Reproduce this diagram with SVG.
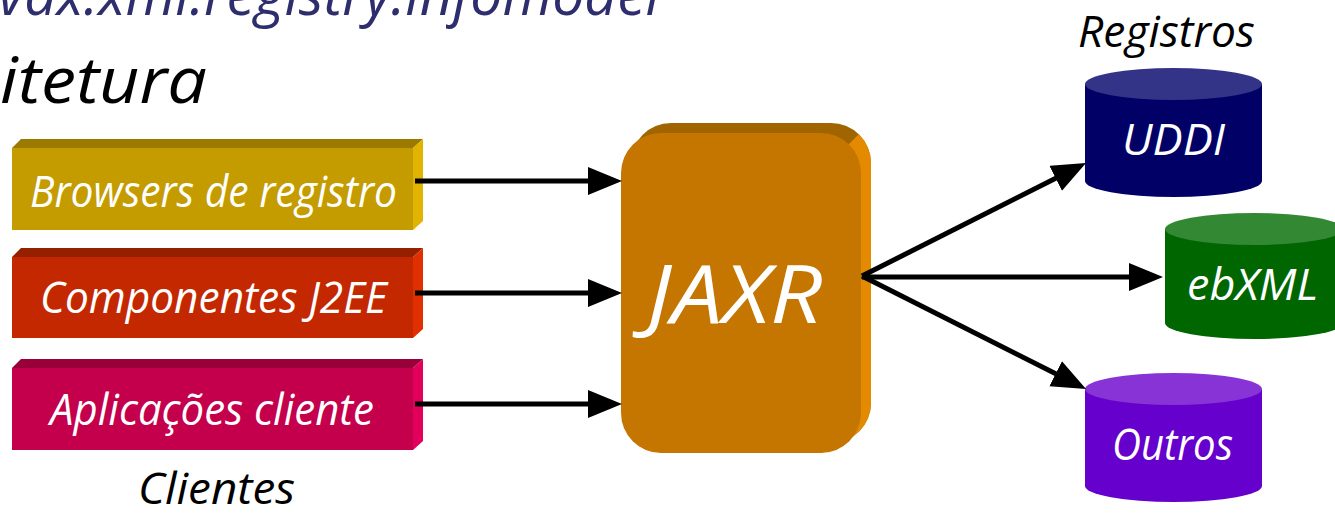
<svg xmlns="http://www.w3.org/2000/svg" width="1335" height="515" viewBox="0 0 1335 515">
<style>
text{font-family:"Open Sans","Liberation Sans",sans-serif;font-style:italic}
.w{fill:#ffffff}
.k{fill:#000000}
.lbl{font-size:44px}
.conn line{stroke:#000;stroke-width:5}
</style>
<defs>
<marker id="ah" markerUnits="userSpaceOnUse" markerWidth="36" markerHeight="30" refX="24" refY="14" orient="auto">
<path d="M0,0 L34,14 L0,28 Z" fill="#000"/>
</marker>
<clipPath id="rs"><polygon points="900,93 900,500 493,500"/></clipPath>
</defs>
<rect width="1335" height="515" fill="#ffffff"/>

<g id="title">
<text x="660" y="15" text-anchor="end" font-size="58" fill="#2E2E6E" textLength="662" lengthAdjust="spacingAndGlyphs">vax.xml.registry.infomodel</text>
<text x="207" y="103" text-anchor="end" font-size="64" class="k" textLength="207" lengthAdjust="spacingAndGlyphs">itetura</text>
</g>

<g id="browsers">
<polygon points="12,148 21,139 423,139 413,148" fill="#9A7A00"/>
<polygon points="413,148 423,139 423,221 413,230" fill="#E0B400"/>
<rect x="12" y="148" width="401" height="82" fill="#C49C00"/>
<text x="30" y="207" class="w lbl" textLength="367" lengthAdjust="spacingAndGlyphs">Browsers de registro</text>
</g>

<g id="componentes">
<polygon points="12,257 21,248 423,248 413,257" fill="#952000"/>
<polygon points="413,257 423,248 423,329 413,338" fill="#E03000"/>
<rect x="12" y="257" width="401" height="81" fill="#C42800"/>
<text x="40" y="313" class="w lbl" textLength="347" lengthAdjust="spacingAndGlyphs">Componentes J2EE</text>
</g>

<g id="aplicacoes">
<polygon points="12,368 21,359 423,359 413,368" fill="#99003A"/>
<polygon points="413,368 423,359 423,441 413,450" fill="#E2005C"/>
<rect x="12" y="368" width="401" height="82" fill="#C4004C"/>
<text x="50" y="425" class="w lbl" textLength="324" lengthAdjust="spacingAndGlyphs">Aplicações cliente</text>
</g>

<g id="clientes-label">
<text x="138" y="504" class="k lbl" textLength="157" lengthAdjust="spacingAndGlyphs">Clientes</text>
</g>

<g id="jaxr">
<rect x="631" y="123" width="240" height="320" rx="40" ry="40" fill="#A06400"/>
<rect x="631" y="123" width="240" height="320" rx="40" ry="40" fill="#E38A00" clip-path="url(#rs)"/>
<rect x="621" y="133" width="240" height="320" rx="40" ry="40" fill="#C47600"/>
<text x="647" y="323" class="w" font-size="80" textLength="175" lengthAdjust="spacingAndGlyphs">JAXR</text>
</g>

<g id="registros-label">
<text x="1078" y="47" class="k lbl" textLength="177" lengthAdjust="spacingAndGlyphs">Registros</text>
</g>

<g id="uddi">
<path d="M1085,84 L1085,181 A88.5,16 0 0 0 1262,181 L1262,84 Z" fill="#000066"/>
<ellipse cx="1173.5" cy="84" rx="88.5" ry="16" fill="#333388"/>
<text x="1122" y="155" class="w lbl" textLength="103" lengthAdjust="spacingAndGlyphs">UDDI</text>
</g>

<g id="ebxml">
<path d="M1165,229 L1165,323 A89,16 0 0 0 1343,323 L1343,229 Z" fill="#006600"/>
<ellipse cx="1254" cy="229" rx="89" ry="16" fill="#338833"/>
<text x="1187" y="300" class="w lbl" textLength="131" lengthAdjust="spacingAndGlyphs">ebXML</text>
</g>

<g id="outros">
<path d="M1085,389 L1085,486 A88.5,16 0 0 0 1262,486 L1262,389 Z" fill="#6600CC"/>
<ellipse cx="1173.5" cy="389" rx="88.5" ry="16" fill="#8833D6"/>
<text x="1112" y="460" class="w lbl" textLength="121" lengthAdjust="spacingAndGlyphs">Outros</text>
</g>

<g id="connectors" class="conn">
<line x1="415" y1="181" x2="612" y2="181" marker-end="url(#ah)"/>
<line x1="415" y1="293" x2="612" y2="293" marker-end="url(#ah)"/>
<line x1="415" y1="404" x2="612" y2="404" marker-end="url(#ah)"/>
<line x1="862" y1="277" x2="1153" y2="277" marker-end="url(#ah)"/>
<line x1="862" y1="276" x2="1077.1" y2="167.5" marker-end="url(#ah)"/>
<line x1="862" y1="276" x2="1077.1" y2="384.5" marker-end="url(#ah)"/>
</g>
</svg>
